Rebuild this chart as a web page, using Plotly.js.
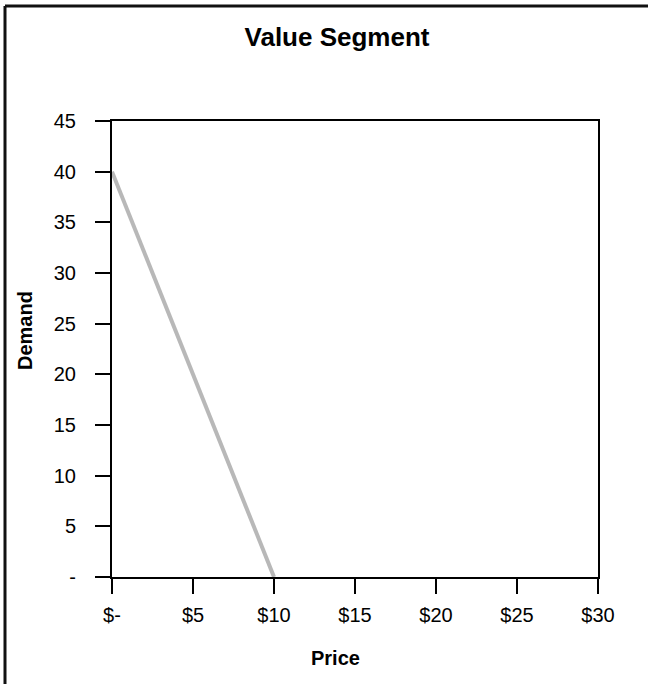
<!DOCTYPE html>
<html>
<head>
<meta charset="utf-8">
<script src="https://cdn.plot.ly/plotly-3.0.1.min.js"></script>
<style>
  html, body { margin: 0; padding: 0; background: #fff; }
  #chart { width: 648px; height: 684px; }
</style>
</head>
<body>
<div id="chart"></div>
<script>
// Demand curve for the value segment
const price = [0, 10];
const demand = [40, 0];

// Axis ticks and their accounting-style labels
const priceTicks = [0, 5, 10, 15, 20, 25, 30];
const priceLabels = ['$-', '$5', '$10', '$15', '$20', '$25', '$30'];
const demandTicks = [0, 5, 10, 15, 20, 25, 30, 35, 40, 45];
const demandLabels = ['-', '5', '10', '15', '20', '25', '30', '35', '40', '45'];

const FONT = '"Liberation Sans", Arial, Helvetica, sans-serif';

const trace = {
  x: price,
  y: demand,
  type: 'scatter',
  mode: 'lines',
  line: { color: '#b8b8b8', width: 4 },
  hoverinfo: 'x+y',
  showlegend: false
};

const axisCommon = {
  showgrid: false,
  zeroline: false,
  showline: true,
  linecolor: '#000',
  linewidth: 2,
  mirror: true,
  ticks: 'outside',
  ticklen: 15,
  tickwidth: 2,
  tickcolor: '#000',
  tickmode: 'array',
  tickfont: { family: FONT, size: 20, color: '#000' }
};

// chart-area frame: only its top and left edges fall inside the page
const frameLeft = (5 - 112) / 486;
const frameTop = (577 - 6) / 456;

const layout = {
  width: 648,
  height: 684,
  margin: { l: 112, r: 50, t: 121, b: 107 },
  paper_bgcolor: '#fff',
  plot_bgcolor: '#fff',
  title: {
    text: '<b>Value Segment</b>',
    font: { family: FONT, size: 26, color: '#000' },
    xref: 'container',
    x: 337 / 648,
    xanchor: 'center',
    yref: 'container',
    y: 1 - 37 / 684,
    yanchor: 'middle'
  },
  xaxis: Object.assign({}, axisCommon, {
    range: [0, 30],
    tickvals: priceTicks,
    ticktext: priceLabels,
    ticklabelstandoff: 4
  }),
  yaxis: Object.assign({}, axisCommon, {
    range: [0, 45],
    tickvals: demandTicks,
    ticktext: demandLabels,
    ticklabelstandoff: 15
  }),
  annotations: [
    {
      text: '<b>Price</b>',
      xref: 'paper', yref: 'paper',
      x: (335 - 112) / 486, y: (577 - 658) / 456,
      xanchor: 'center', yanchor: 'middle',
      showarrow: false,
      font: { family: FONT, size: 20, color: '#000' }
    },
    {
      text: '<b>Demand</b>',
      xref: 'paper', yref: 'paper',
      x: (25 - 112) / 486, y: (577 - 331) / 456,
      xanchor: 'center', yanchor: 'middle',
      textangle: -90,
      showarrow: false,
      font: { family: FONT, size: 20, color: '#000' }
    }
  ],
  shapes: [
    {
      type: 'line', xref: 'paper', yref: 'paper',
      x0: frameLeft, x1: 1.2, y0: frameTop, y1: frameTop,
      line: { color: '#111', width: 3 }
    },
    {
      type: 'line', xref: 'paper', yref: 'paper',
      x0: frameLeft, x1: frameLeft, y0: frameTop, y1: -0.3,
      line: { color: '#111', width: 3 }
    }
  ]
};

Plotly.newPlot('chart', [trace], layout, { displayModeBar: false, staticPlot: true });
</script>
</body>
</html>
